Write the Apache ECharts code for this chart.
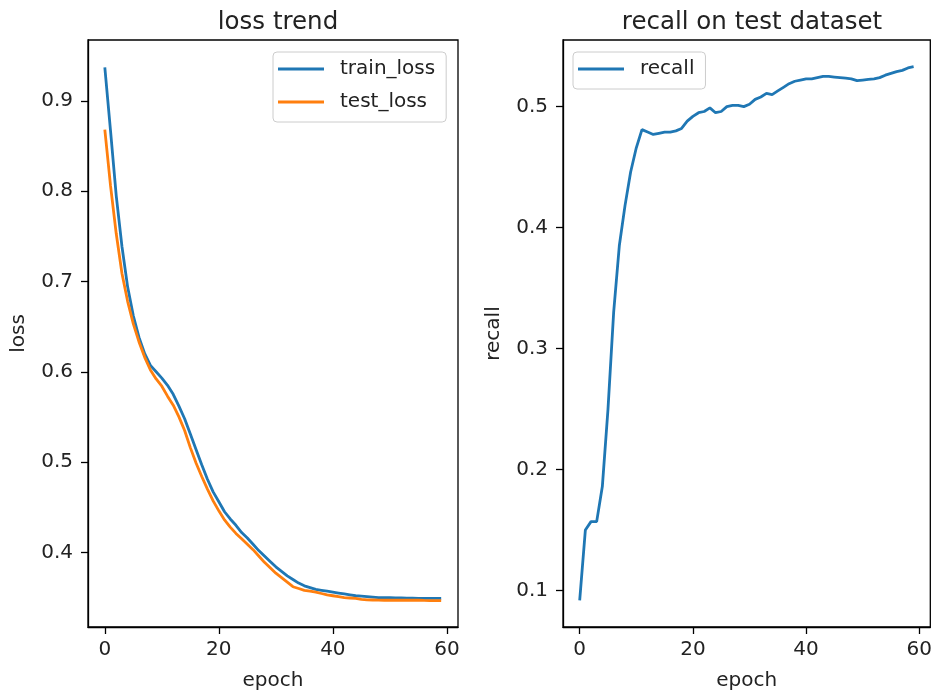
<!DOCTYPE html>
<html>
<head>
<meta charset="utf-8">
<script src="https://cdn.jsdelivr.net/npm/echarts@6/dist/echarts.min.js"></script>
<style>
  html, body { margin: 0; padding: 0; background: #fff; }
  #chart { width: 935px; height: 696px; }
</style>
</head>
<body>
<div id="chart"></div>
<script>
// values, one per epoch (0..59)
const trainLoss = [
  0.937, 0.867, 0.795, 0.739, 0.694, 0.662, 0.638, 0.620, 0.607, 0.600,
  0.593, 0.585, 0.575, 0.562, 0.548, 0.531, 0.514, 0.497, 0.481, 0.467,
  0.456, 0.445, 0.437, 0.430, 0.422, 0.416, 0.409, 0.402, 0.396, 0.390,
  0.384, 0.379, 0.374, 0.370, 0.366, 0.363, 0.361, 0.359, 0.358, 0.357,
  0.356, 0.355, 0.354, 0.353, 0.352, 0.3515, 0.351, 0.3505, 0.350, 0.350,
  0.3498, 0.3496, 0.3495, 0.3494, 0.3493, 0.3492, 0.3491, 0.349, 0.349, 0.349
]
const testLoss = [
  0.868, 0.806, 0.753, 0.709, 0.678, 0.653, 0.633, 0.616, 0.602, 0.592,
  0.584, 0.573, 0.563, 0.550, 0.535, 0.516, 0.499, 0.484, 0.470, 0.457,
  0.446, 0.436, 0.428, 0.421, 0.415, 0.409, 0.403, 0.396, 0.389, 0.383,
  0.377, 0.372, 0.367, 0.362, 0.360, 0.358, 0.357, 0.356, 0.3545, 0.353,
  0.352, 0.351, 0.350, 0.3495, 0.349, 0.348, 0.3475, 0.3473, 0.3471, 0.347,
  0.347, 0.347, 0.347, 0.347, 0.347, 0.347, 0.3468, 0.3467, 0.3466, 0.3465
]
const recall = [
  0.092, 0.150, 0.157, 0.157, 0.186, 0.250, 0.330, 0.385, 0.418, 0.446,
  0.466, 0.481, 0.479, 0.477, 0.478, 0.479, 0.479, 0.480, 0.482, 0.488,
  0.492, 0.495, 0.496, 0.499, 0.495, 0.496, 0.500, 0.501, 0.501, 0.500,
  0.502, 0.506, 0.508, 0.511, 0.510, 0.513, 0.516, 0.519, 0.521, 0.522,
  0.523, 0.523, 0.524, 0.525, 0.525, 0.5245, 0.524, 0.5235, 0.523, 0.5215,
  0.522, 0.5225, 0.523, 0.524, 0.526, 0.5275, 0.529, 0.530, 0.532, 0.533
]
const epochTicks = [0, 20, 40, 60]
const lossTicks = [0.4, 0.5, 0.6, 0.7, 0.8, 0.9]
const recallTicks = [0.1, 0.2, 0.3, 0.4, 0.5]

const font = 'DejaVu Sans'
const ink = '#222'
const pairs = arr => arr.map((v, i) => [i, v])

function xAxis(gridIndex) {
  return {
    type: 'value', gridIndex: gridIndex,
    min: -2.95, max: 61.95,
    name: 'epoch', nameLocation: 'middle', nameGap: 44,
    nameTextStyle: { fontFamily: font, fontSize: 20, color: ink },
    axisLine: { show: true, onZero: false, lineStyle: { color: '#000', width: 1.3 } },
    axisTick: { show: true, inside: false, length: 7, customValues: epochTicks, lineStyle: { color: '#000', width: 1.3 } },
    axisLabel: { customValues: epochTicks, fontFamily: font, fontSize: 20, color: ink, margin: 13 },
    splitLine: { show: false }
  }
}
function yAxis(gridIndex, name, ticks, min, max) {
  return {
    type: 'value', gridIndex: gridIndex,
    min: min, max: max,
    name: name, nameLocation: 'middle', nameGap: 59,
    nameTextStyle: { fontFamily: font, fontSize: 20, color: ink },
    axisLine: { show: true, onZero: false, lineStyle: { color: '#000', width: 1.3 } },
    axisTick: { show: true, inside: false, length: 7, customValues: ticks, lineStyle: { color: '#000', width: 1.3 } },
    axisLabel: { customValues: ticks, fontFamily: font, fontSize: 20, color: ink, margin: 15,
      formatter: v => v.toFixed(1) },
    splitLine: { show: false }
  }
}
function legend(left, names) {
  return {
    data: names, left: left, top: 52, orient: 'vertical',
    icon: 'rect', itemWidth: 46, itemHeight: 3, itemGap: 13,
    padding: [7, 11, 10, 5],
    borderColor: '#ccc', borderWidth: 1, borderRadius: 4,
    backgroundColor: 'rgba(255,255,255,0.8)',
    textStyle: { fontFamily: font, fontSize: 20, lineHeight: 20, color: ink, padding: [0, 0, 0, 11] }
  }
}

const chart = echarts.init(document.getElementById('chart'))
chart.setOption({
  animation: false,
  title: [
    { text: 'loss trend', left: 273, top: 5, textAlign: 'center',
      textStyle: { fontFamily: font, fontSize: 24.5, fontWeight: 'normal', color: ink } },
    { text: 'recall on test dataset', left: 747, top: 5, textAlign: 'center',
      textStyle: { fontFamily: font, fontSize: 24.5, fontWeight: 'normal', color: ink } }
  ],
  legend: [
    legend(273, ['train_loss', 'test_loss']),
    legend(573, ['recall'])
  ],
  grid: [
    { left: 88, right: 477, top: 40, bottom: 69, show: true, borderColor: '#000', borderWidth: 1.3 },
    { left: 563, right: 3, top: 40, bottom: 69, show: true, borderColor: '#000', borderWidth: 1.3 }
  ],
  xAxis: [xAxis(0), xAxis(1)],
  yAxis: [
    yAxis(0, 'loss', lossTicks, 0.3174, 0.9673),
    yAxis(1, 'recall', recallTicks, 0.0699, 0.5551)
  ],
  series: [
    { name: 'train_loss', type: 'line', xAxisIndex: 0, yAxisIndex: 0, data: pairs(trainLoss),
      showSymbol: false, color: '#1f77b4', lineStyle: { width: 2.8 } },
    { name: 'test_loss', type: 'line', xAxisIndex: 0, yAxisIndex: 0, data: pairs(testLoss),
      showSymbol: false, color: '#ff7f0e', lineStyle: { width: 2.8 } },
    { name: 'recall', type: 'line', xAxisIndex: 1, yAxisIndex: 1, data: pairs(recall),
      showSymbol: false, color: '#1f77b4', lineStyle: { width: 2.8 } }
  ]
})
</script>
</body>
</html>
